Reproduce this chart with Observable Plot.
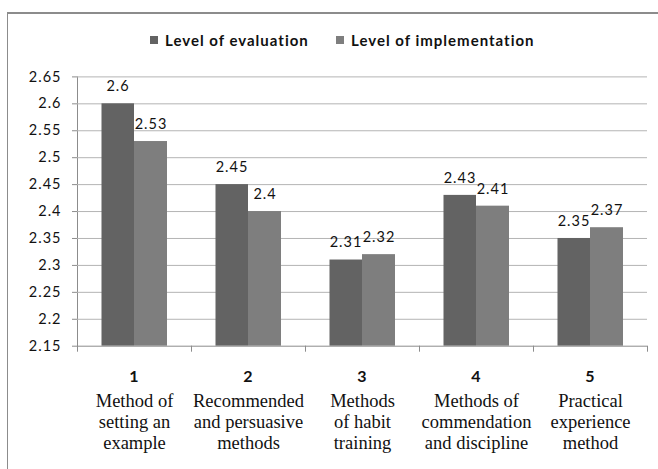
<!DOCTYPE html>
<html><head><meta charset="utf-8">
<script src="https://cdn.jsdelivr.net/npm/d3@7"></script>
<script src="https://cdn.jsdelivr.net/npm/@observablehq/plot@0.6"></script>
<style>
html,body{margin:0;padding:0;background:#fff;}
#wrap{position:relative;width:658px;height:469px;overflow:hidden;}
#frame{position:absolute;left:7px;top:12px;width:700px;height:500px;border-left:1px solid #8c8c8c;border-top:2px solid #8c8c8c;box-sizing:border-box;}
#legend{position:relative;height:60px;}
.item{position:absolute;top:31px;display:flex;align-items:center;font:bold 15px Lato,sans-serif;letter-spacing:1px;color:#111;white-space:nowrap;}
.sw{width:8px;height:8px;margin-right:7px;}
#chart{position:relative;}
#chart svg text{fill:#111;letter-spacing:1px;}
#chart svg g[font-family^="Liberation Serif"] text,
#chart svg g[font-family^="Liberation Serif"] tspan{letter-spacing:0;}
</style>
</head><body>
<div id="wrap">
<div id="frame"></div>
<div id="legend"></div>
<div id="chart"></div>
</div>
<script>
const categories = ["1","2","3","4","5"];
const categoryNames = [
  "Method of\nsetting an\nexample",
  "Recommended\nand persuasive\nmethods",
  "Methods\nof habit\ntraining",
  "Methods of\ncommendation\nand discipline",
  "Practical\nexperience\nmethod"
];
const series = ["Level of evaluation","Level of implementation"];
const evaluation = [2.6, 2.45, 2.31, 2.43, 2.35];
const implementation = [2.53, 2.4, 2.32, 2.41, 2.37];
const yTicks = [2.15, 2.2, 2.25, 2.3, 2.35, 2.4, 2.45, 2.5, 2.55, 2.6, 2.65];
const yTickLabels = ["2.15","2.2","2.25","2.3","2.35","2.4","2.45","2.5","2.55","2.6","2.65"];
const colors = ["#636363", "#7e7e7e"];

const evalRows = categories.map((c, i) => ({cat: c, series: series[0], value: evaluation[i]}));
const implRows = categories.map((c, i) => ({cat: c, series: series[1], value: implementation[i]}));
const base = yTicks[0];

// legend
const legend = document.getElementById("legend");
const legendLeft = [150, 336];
series.forEach((s, i) => {
  const it = document.createElement("div");
  it.className = "item";
  it.style.left = legendLeft[i] + "px";
  const sw = document.createElement("span");
  sw.className = "sw";
  sw.style.background = colors[i];
  it.appendChild(sw);
  it.appendChild(document.createTextNode(s));
  legend.appendChild(it);
});

const axisGray = "#8c8c8c";
const chart = Plot.plot({
  width: 658,
  height: 409,
  marginTop: 16.4,
  marginBottom: 123.3,
  marginLeft: 77,
  marginRight: 11,
  style: {background: "transparent", color: axisGray, fontFamily: "Lato, sans-serif", fontSize: "14.5px", overflow: "visible"},
  x: {type: "band", domain: categories, padding: 0, axis: null},
  y: {domain: [yTicks[0], yTicks[yTicks.length - 1]], ticks: yTicks, tickFormat: d => yTickLabels[yTicks.indexOf(d)], tickSize: 5, tickPadding: 11, line: true, label: null},
  color: {domain: series, range: colors},
  marks: [
    Plot.ruleY(yTicks.slice(1), {stroke: "#b4b4b4"}),
    Plot.barY(evalRows, {x: "cat", y1: base, y2: "value", fill: "series", insetLeft: 24.5, insetRight: 57}),
    Plot.barY(implRows, {x: "cat", y1: base, y2: "value", fill: "series", insetLeft: 57, insetRight: 24}),
    Plot.ruleY([base], {stroke: axisGray}),
    Plot.ruleX(categories, {x: d => d, dx: -57, y1: base, y2: base, insetBottom: -6, stroke: axisGray}),
    Plot.ruleX(categories.slice(-1), {x: d => d, dx: 57, y1: base, y2: base, insetBottom: -6, stroke: axisGray}),
    Plot.text(evalRows, {x: "cat", y: "value", text: d => String(d.value), dx: -16.5, dy: -12.6, lineAnchor: "bottom", fontSize: 14.5, fill: "#111"}),
    Plot.text(implRows, {x: "cat", y: "value", text: d => String(d.value), dx: 16.5, dy: -12.6, lineAnchor: "bottom", fontSize: 14.5, fill: "#111"}),
    Plot.text(categories, {x: d => d, y: base, text: d => d, lineAnchor: "top", dy: 24.9, fontWeight: "bold", fontSize: 16, fill: "#111"}),
    Plot.text(categoryNames, {x: (d, i) => categories[i], y: base, text: d => d, lineAnchor: "top", dy: 45.5, fontFamily: "Liberation Serif, serif", fontSize: 18.5, lineHeight: 1.15, fill: "#111"})
  ]
});
document.getElementById("chart").appendChild(chart);
</script>
</body></html>
